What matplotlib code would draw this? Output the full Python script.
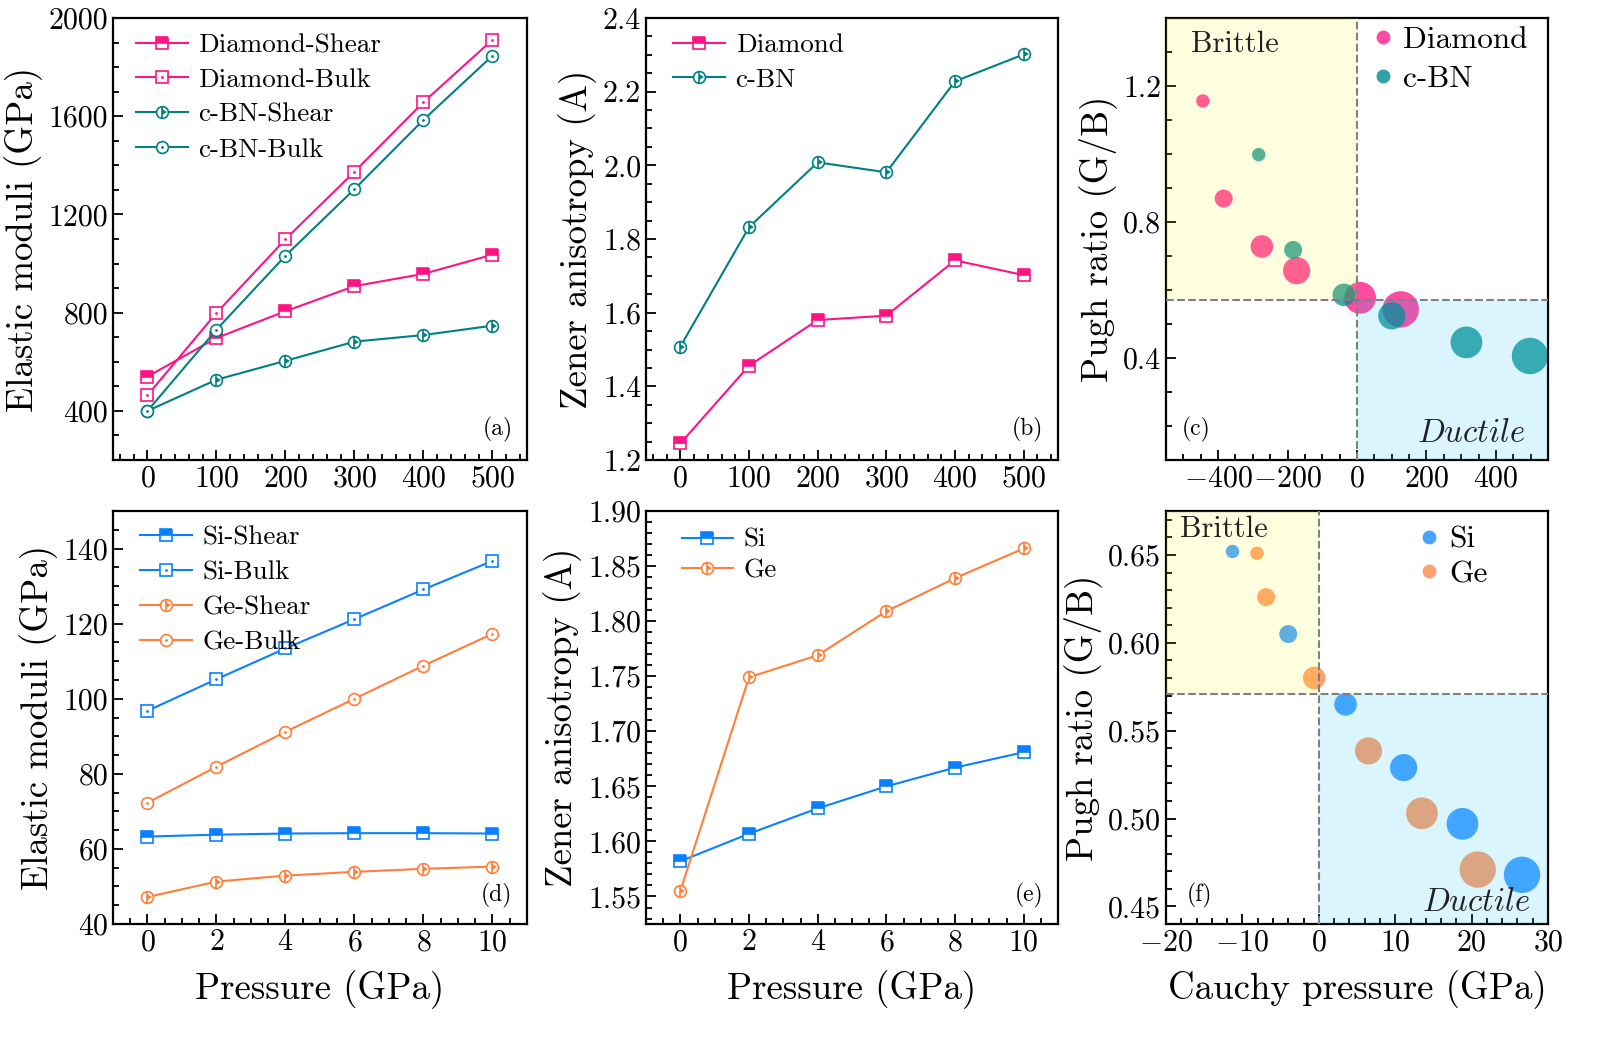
import matplotlib
matplotlib.use('Agg')
import matplotlib.pyplot as plt
from matplotlib.ticker import MultipleLocator, FormatStrFormatter
from matplotlib.lines import Line2D
from matplotlib.patches import Rectangle

# ---------------- data ----------------
pressure_hard = [0, 100, 200, 300, 400, 500]
pressure_semi = [0, 2, 4, 6, 8, 10]

diamond_shear = [540, 697, 806, 908, 958, 1036]
diamond_bulk = [464, 799, 1099, 1374, 1657, 1911]
cbn_shear = [400, 527, 604, 682, 709, 747]
cbn_bulk = [400, 731, 1032, 1303, 1585, 1846]

diamond_zener = [1.245, 1.456, 1.580, 1.592, 1.742, 1.702]
cbn_zener = [1.508, 1.832, 2.008, 1.981, 2.228, 2.301]

diamond_cauchy = [-444, -384, -274, -174, 9, 126]
diamond_pugh = [1.156, 0.869, 0.728, 0.657, 0.577, 0.543]
cbn_cauchy = [-283, -184, -38, 100, 315, 498]
cbn_pugh = [0.998, 0.718, 0.586, 0.524, 0.446, 0.406]

si_shear = [63.3, 63.8, 64.1, 64.2, 64.2, 64.1]
si_bulk = [96.8, 105.2, 113.4, 121.2, 129.1, 136.7]
ge_shear = [47.2, 51.3, 52.9, 53.9, 54.7, 55.3]
ge_bulk = [72.3, 81.9, 91.2, 100.0, 108.8, 117.3]

si_zener = [1.582, 1.607, 1.630, 1.650, 1.667, 1.681]
ge_zener = [1.555, 1.749, 1.769, 1.809, 1.839, 1.866]

si_cauchy = [-11.3, -4.0, 3.5, 11.1, 18.8, 26.6]
si_pugh = [0.652, 0.605, 0.565, 0.529, 0.497, 0.468]
ge_cauchy = [-8.1, -6.9, -0.6, 6.5, 13.5, 20.8]
ge_pugh = [0.651, 0.626, 0.580, 0.5385, 0.503, 0.471]

PUGH_LIMIT = 0.571

# ---------------- style ----------------
plt.rcParams['font.family'] = 'serif'
plt.rcParams['font.serif'] = ['cmr10']
plt.rcParams['mathtext.fontset'] = 'cm'
plt.rcParams['axes.formatter.use_mathtext'] = True
plt.rcParams['axes.unicode_minus'] = True

PINK = '#ff1385'
TEAL = '#008080'
BLUE = '#0a80ff'
ORANGE = '#ff7f3a'

TICK_FS = 21.5
LABEL_FS = 26.5
LEG_FS = 19.5
MS = 8.5


def style_axes(ax, xmaj, xmin, ymaj, ymin, yfmt):
    for s in ax.spines.values():
        s.set_linewidth(1.6)
    ax.xaxis.set_major_locator(MultipleLocator(xmaj))
    ax.xaxis.set_minor_locator(MultipleLocator(xmin))
    ax.yaxis.set_major_locator(MultipleLocator(ymaj))
    ax.yaxis.set_minor_locator(MultipleLocator(ymin))
    ax.yaxis.set_major_formatter(FormatStrFormatter(yfmt))
    ax.tick_params(which='both', direction='in', top=False, right=False,
                   labelsize=TICK_FS, width=1.3)
    ax.tick_params(which='major', length=7)
    ax.tick_params(which='minor', length=4)


def line_series(ax, x, y, color, kind):
    """Origin-like markers: half-filled square / dotted square / half circle / dotted circle."""
    common = dict(color=color, lw=1.5, ms=MS, mew=1.2, mec=color)
    if kind == 'sq_half':
        return ax.plot(x, y, marker='s', fillstyle='top', mfc=color,
                       markerfacecoloralt='white', **common)[0]
    if kind == 'sq_dot':
        h1 = ax.plot(x, y, marker='s', mfc='white', **common)[0]
        h2 = ax.plot(x, y, ls='none', marker='.', ms=2, color=color)[0]
        return (h1, h2)
    if kind == 'c_half':
        h1 = ax.plot(x, y, marker='o', mfc='white', **common)[0]
        h2 = ax.plot(x, y, ls='none', marker='|', ms=MS, mew=1.2, color=color)[0]
        h3 = ax.plot(x, y, ls='none', marker=9, ms=MS * 0.55, color=color, mew=0)[0]
        return (h1, h2, h3)
    if kind == 'c_dot':
        h1 = ax.plot(x, y, marker='o', mfc='white', **common)[0]
        h2 = ax.plot(x, y, ls='none', marker='.', ms=2, color=color)[0]
        return (h1, h2)


def add_legend(ax, handles, labels, anchor, spacing=0.40):
    ax.legend(handles, labels, loc='upper left', bbox_to_anchor=anchor,
              frameon=False, fontsize=LEG_FS, handlelength=1.9,
              handletextpad=0.4, labelspacing=spacing, borderaxespad=0)


def pugh_panel(ax, xlim, ylim, txt_brittle, txt_ductile):
    ax.set_xlim(*xlim)
    ax.set_ylim(*ylim)
    ax.add_patch(Rectangle((xlim[0], PUGH_LIMIT), -xlim[0], ylim[1] - PUGH_LIMIT,
                           facecolor='#ffff00', alpha=0.12, edgecolor='none', zorder=3))
    ax.add_patch(Rectangle((0, ylim[0]), xlim[1], PUGH_LIMIT - ylim[0],
                           facecolor='#00bfff', alpha=0.14, edgecolor='none', zorder=3))
    ax.axvline(0, color='#808080', ls='--', lw=1.5, zorder=4)
    ax.axhline(PUGH_LIMIT, color='#808080', ls='--', lw=1.5, zorder=4)
    ax.text(txt_brittle[0], txt_brittle[1], 'Brittle', transform=ax.transAxes,
            fontsize=22, ha='left', va='center', color='#222222', zorder=5)
    ax.text(txt_ductile[0], txt_ductile[1], r'$\mathit{Ductile}$', transform=ax.transAxes,
            fontsize=23.5, ha='right', va='center', color='#222222', zorder=5)


def scatter_legend(ax, colors, labels, anchor, spacing):
    lh = [Line2D([], [], ls='none', marker='o', ms=10, color=c, alpha=0.8, mew=0)
          for c in colors]
    ax.legend(lh, labels, loc='upper left', bbox_to_anchor=anchor,
              frameon=False, fontsize=22.5, handlelength=0.6, handletextpad=0.35,
              labelspacing=spacing, borderaxespad=0)


def bubble(r0, step, n):
    return [((r0 + step * i) * 2 * 0.72) ** 2 for i in range(n)]


fig = plt.figure(figsize=(16.05, 10.38), dpi=100)
L = [0.0704, 0.4025, 0.7265]
W = [0.2579, 0.2567, 0.2380]
top_b, top_h = 0.5568, 0.4259
bot_b, bot_h = 0.1098, 0.3979

ax_a = fig.add_axes([L[0], top_b, W[0], top_h])
ax_b = fig.add_axes([L[1], top_b, W[1], top_h])
ax_c = fig.add_axes([L[2], top_b, W[2], top_h])
ax_d = fig.add_axes([L[0], bot_b, W[0], bot_h])
ax_e = fig.add_axes([L[1], bot_b, W[1], bot_h])
ax_f = fig.add_axes([L[2], bot_b, W[2], bot_h])

# (a)
hs = [line_series(ax_a, pressure_hard, diamond_shear, PINK, 'sq_half'),
      line_series(ax_a, pressure_hard, diamond_bulk, PINK, 'sq_dot'),
      line_series(ax_a, pressure_hard, cbn_shear, TEAL, 'c_half'),
      line_series(ax_a, pressure_hard, cbn_bulk, TEAL, 'c_dot')]
add_legend(ax_a, hs, ['Diamond-Shear', 'Diamond-Bulk', 'c-BN-Shear', 'c-BN-Bulk'], (0.03, 0.99))
ax_a.set_xlim(-50, 550)
ax_a.set_ylim(200, 2000)
style_axes(ax_a, 100, 20, 400, 100, '%d')
ax_a.set_ylabel('Elastic moduli (GPa)', fontsize=LABEL_FS)
ax_a.text(0.965, 0.04, '(a)', transform=ax_a.transAxes, ha='right', va='bottom', fontsize=17)

# (b)
hs = [line_series(ax_b, pressure_hard, diamond_zener, PINK, 'sq_half'),
      line_series(ax_b, pressure_hard, cbn_zener, TEAL, 'c_half')]
add_legend(ax_b, hs, ['Diamond', 'c-BN'], (0.04, 0.99))
ax_b.set_xlim(-50, 550)
ax_b.set_ylim(1.2, 2.4)
style_axes(ax_b, 100, 20, 0.2, 0.05, '%.1f')
ax_b.set_ylabel('Zener anisotropy (A)', fontsize=LABEL_FS)
ax_b.text(0.965, 0.04, '(b)', transform=ax_b.transAxes, ha='right', va='bottom', fontsize=17)

# (c)
sizes = bubble(6.7, 2.3, len(pressure_hard))
ax_c.scatter(diamond_cauchy, diamond_pugh, s=sizes, color='#ff1e8c', alpha=0.8,
             edgecolors='none', zorder=2)
ax_c.scatter(cbn_cauchy, cbn_pugh, s=sizes, color='#008b8b', alpha=0.75,
             edgecolors='none', zorder=2)
pugh_panel(ax_c, (-550, 550), (0.1, 1.4), (0.065, 0.94), (0.94, 0.06))
style_axes(ax_c, 200, 50, 0.4, 0.1, '%.1f')
ax_c.set_ylabel('Pugh ratio (G/B)', fontsize=LABEL_FS)
ax_c.text(0.04, 0.04, '(c)', transform=ax_c.transAxes, ha='left', va='bottom', fontsize=17)
scatter_legend(ax_c, ['#ff1e8c', '#008b8b'], ['Diamond', 'c-BN'], (0.51, 1.01), 0.36)

# (d)
hs = [line_series(ax_d, pressure_semi, si_shear, BLUE, 'sq_half'),
      line_series(ax_d, pressure_semi, si_bulk, BLUE, 'sq_dot'),
      line_series(ax_d, pressure_semi, ge_shear, ORANGE, 'c_half'),
      line_series(ax_d, pressure_semi, ge_bulk, ORANGE, 'c_dot')]
add_legend(ax_d, hs, ['Si-Shear', 'Si-Bulk', 'Ge-Shear', 'Ge-Bulk'], (0.04, 0.99))
ax_d.set_xlim(-1, 11)
ax_d.set_ylim(40, 150)
style_axes(ax_d, 2, 0.5, 20, 5, '%d')
ax_d.set_ylabel('Elastic moduli (GPa)', fontsize=LABEL_FS)
ax_d.set_xlabel('Pressure (GPa)', fontsize=LABEL_FS, labelpad=10)
ax_d.text(0.965, 0.04, '(d)', transform=ax_d.transAxes, ha='right', va='bottom', fontsize=17)

# (e)
hs = [line_series(ax_e, pressure_semi, si_zener, BLUE, 'sq_half'),
      line_series(ax_e, pressure_semi, ge_zener, ORANGE, 'c_half')]
add_legend(ax_e, hs, ['Si', 'Ge'], (0.06, 0.985), spacing=0.25)
ax_e.set_xlim(-1, 11)
ax_e.set_ylim(1.525, 1.90)
style_axes(ax_e, 2, 0.5, 0.05, 0.01, '%.2f')
ax_e.set_ylabel('Zener anisotropy (A)', fontsize=LABEL_FS)
ax_e.set_xlabel('Pressure (GPa)', fontsize=LABEL_FS, labelpad=10)
ax_e.text(0.965, 0.04, '(e)', transform=ax_e.transAxes, ha='right', va='bottom', fontsize=17)

# (f)
sizes = bubble(6.7, 2.3, len(pressure_semi))
ax_f.scatter(si_cauchy, si_pugh, s=sizes, color='#1e8cff', alpha=0.8,
             edgecolors='none', zorder=2)
ax_f.scatter(ge_cauchy, ge_pugh, s=sizes, color='#ff8a4a', alpha=0.8,
             edgecolors='none', zorder=2)
pugh_panel(ax_f, (-20, 30), (0.44, 0.675), (0.037, 0.955), (0.955, 0.052))
style_axes(ax_f, 10, 2, 0.05, 0.01, '%.2f')
ax_f.set_ylabel('Pugh ratio (G/B)', fontsize=LABEL_FS)
ax_f.set_xlabel('Cauchy pressure (GPa)', fontsize=LABEL_FS, labelpad=10)
ax_f.text(0.055, 0.04, '(f)', transform=ax_f.transAxes, ha='left', va='bottom', fontsize=17)
scatter_legend(ax_f, ['#1e8cff', '#ff8a4a'], ['Si', 'Ge'], (0.63, 0.995), 0.22)

fig.savefig('out.png', dpi=100)
print('saved out.png')
